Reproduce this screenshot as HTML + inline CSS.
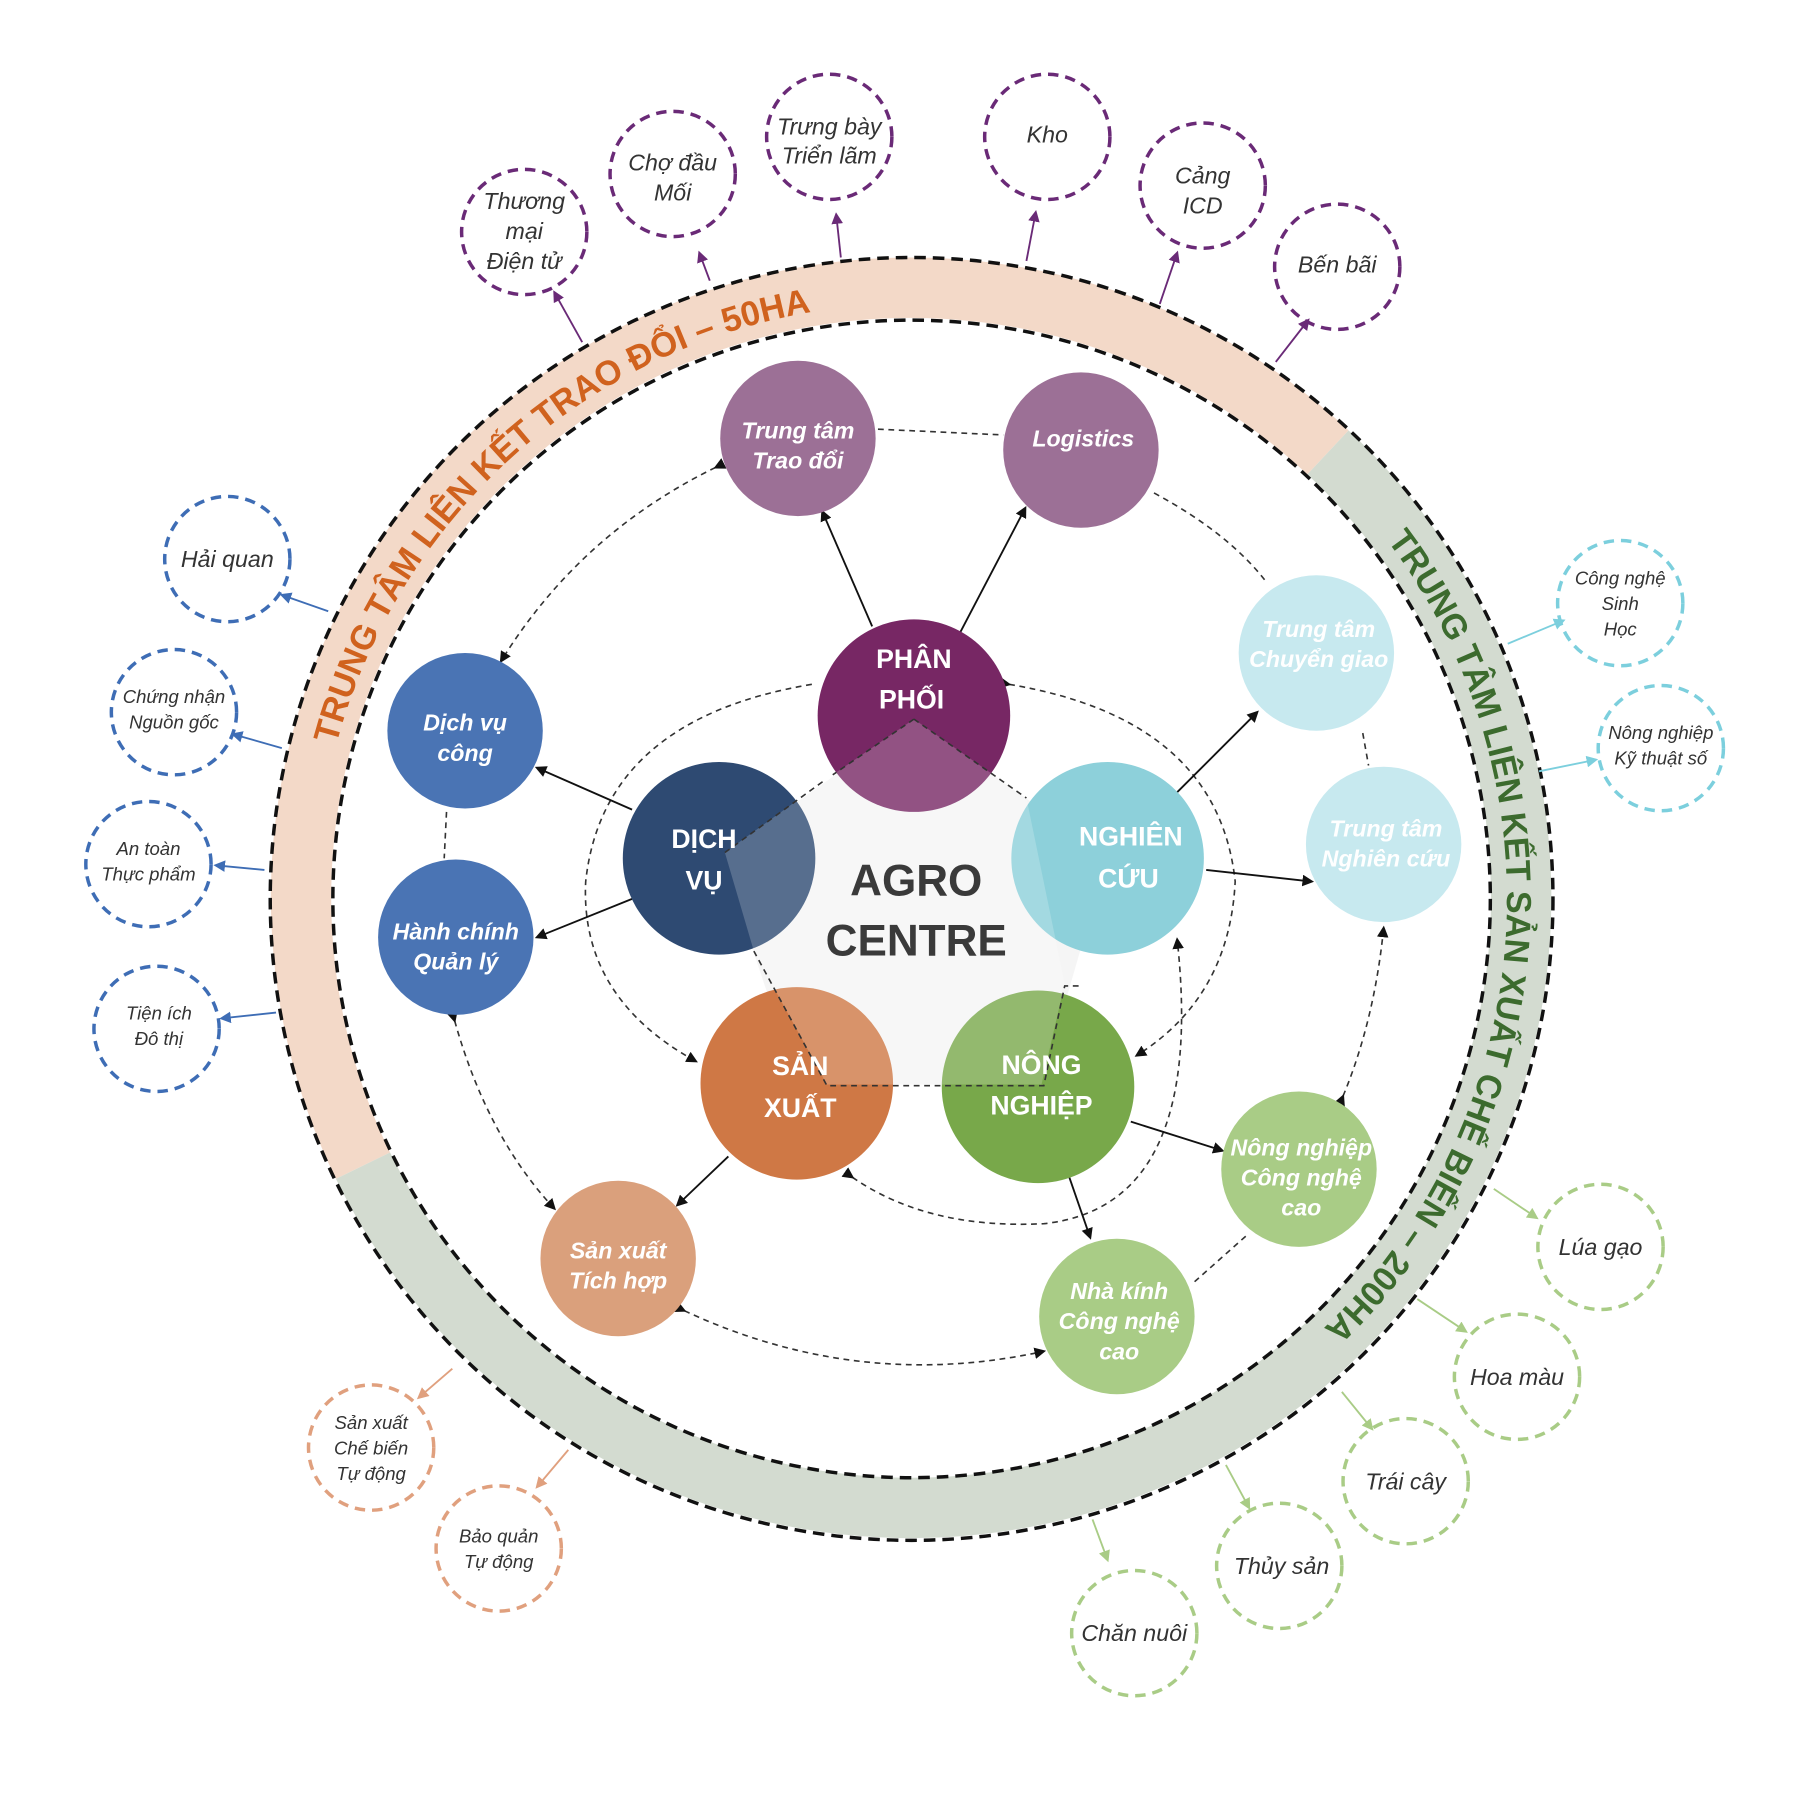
<!DOCTYPE html>
<html><head><meta charset="utf-8"><style>
html,body{margin:0;padding:0;background:#fff}
svg{display:block}
text{font-family:"Liberation Sans",sans-serif}
.wt{fill:#fff;font-weight:bold;font-style:italic;font-size:20px;text-anchor:middle}
.mt{fill:#fff;font-weight:bold;font-size:23px;text-anchor:middle}
.ot{fill:#333;font-style:italic;font-size:20px;text-anchor:middle}
.os{fill:#333;font-style:italic;font-size:16px;text-anchor:middle}
.dc{fill:none;stroke-width:3;stroke-dasharray:9 6}
.dl{fill:none;stroke:#333;stroke-width:1.4;stroke-dasharray:5 4}
.sl{stroke:#111;stroke-width:1.6}
</style></head><body>
<svg width="1800" height="1799" viewBox="0 0 1552 1551" preserveAspectRatio="none" xmlns="http://www.w3.org/2000/svg">
<defs>
<marker id="ak" markerWidth="10" markerHeight="10" refX="8" refY="5" orient="auto" markerUnits="userSpaceOnUse"><path d="M0,0 L10,5 L0,10 z" fill="#111"/></marker>
<marker id="ap" markerWidth="10" markerHeight="10" refX="8" refY="5" orient="auto" markerUnits="userSpaceOnUse"><path d="M0,0 L10,5 L0,10 z" fill="#6a2a77"/></marker>
<marker id="ab" markerWidth="10" markerHeight="10" refX="8" refY="5" orient="auto" markerUnits="userSpaceOnUse"><path d="M0,0 L10,5 L0,10 z" fill="#3e6db5"/></marker>
<marker id="at" markerWidth="10" markerHeight="10" refX="8" refY="5" orient="auto" markerUnits="userSpaceOnUse"><path d="M0,0 L10,5 L0,10 z" fill="#7ccfdd"/></marker>
<marker id="ag" markerWidth="10" markerHeight="10" refX="8" refY="5" orient="auto" markerUnits="userSpaceOnUse"><path d="M0,0 L10,5 L0,10 z" fill="#a9cc86"/></marker>
<marker id="ao" markerWidth="10" markerHeight="10" refX="8" refY="5" orient="auto" markerUnits="userSpaceOnUse"><path d="M0,0 L10,5 L0,10 z" fill="#e0a07e"/></marker>
<path id="tp1" d="M290,642 A513 513 0 0 1 706,268"/>
<path id="tp2" d="M1196,466 A513 513 0 0 1 1136,1150"/>
</defs>

<!-- band -->
<path d="M313,1005 A526 526 0 0 1 1145,390" fill="none" stroke="#f3d9c8" stroke-width="52"/>
<path d="M1145,390 A526 526 0 1 1 313,1005" fill="none" stroke="#d3dbd0" stroke-width="52"/>
<circle cx="786" cy="775" r="553" fill="none" stroke="#111" stroke-width="3" stroke-dasharray="10 6"/>
<circle cx="786" cy="775" r="499" fill="none" stroke="#111" stroke-width="3" stroke-dasharray="10 6"/>
<text font-size="30" font-weight="bold" fill="#d0621e"><textPath href="#tp1" textLength="585" lengthAdjust="spacingAndGlyphs">TRUNG TÂM LIÊN KẾT TRAO ĐỔI – 50HA</textPath></text>
<text font-size="30" font-weight="bold" fill="#3c6b2e"><textPath href="#tp2" textLength="745" lengthAdjust="spacingAndGlyphs">TRUNG TÂM LIÊN KẾT SẢN XUẤT CHẾ BIẾN – 200HA</textPath></text>

<!-- outer arrows -->
<g stroke-width="1.6">
<line x1="502" y1="295" x2="478" y2="252" stroke="#6a2a77" marker-end="url(#ap)"/>
<line x1="612" y1="242" x2="603" y2="218" stroke="#6a2a77" marker-end="url(#ap)"/>
<line x1="725" y1="222" x2="721" y2="185" stroke="#6a2a77" marker-end="url(#ap)"/>
<line x1="885" y1="225" x2="893" y2="183" stroke="#6a2a77" marker-end="url(#ap)"/>
<line x1="1000" y1="262" x2="1015" y2="218" stroke="#6a2a77" marker-end="url(#ap)"/>
<line x1="1100" y1="312" x2="1128" y2="276" stroke="#6a2a77" marker-end="url(#ap)"/>
<line x1="283" y1="527" x2="243" y2="513" stroke="#3e6db5" marker-end="url(#ab)"/>
<line x1="243" y1="645" x2="201" y2="633" stroke="#3e6db5" marker-end="url(#ab)"/>
<line x1="228" y1="750" x2="186" y2="746" stroke="#3e6db5" marker-end="url(#ab)"/>
<line x1="238" y1="873" x2="191" y2="878" stroke="#3e6db5" marker-end="url(#ab)"/>
<line x1="1300" y1="555" x2="1348" y2="535" stroke="#7ccfdd" marker-end="url(#at)"/>
<line x1="1327" y1="665" x2="1376" y2="655" stroke="#7ccfdd" marker-end="url(#at)"/>
<line x1="1288" y1="1025" x2="1325" y2="1050" stroke="#a9cc86" marker-end="url(#ag)"/>
<line x1="1222" y1="1120" x2="1264" y2="1148" stroke="#a9cc86" marker-end="url(#ag)"/>
<line x1="1157" y1="1200" x2="1183" y2="1232" stroke="#a9cc86" marker-end="url(#ag)"/>
<line x1="1057" y1="1263" x2="1077" y2="1300" stroke="#a9cc86" marker-end="url(#ag)"/>
<line x1="942" y1="1310" x2="955" y2="1345" stroke="#a9cc86" marker-end="url(#ag)"/>
<line x1="390" y1="1180" x2="361" y2="1205" stroke="#e0a07e" marker-end="url(#ao)"/>
<line x1="490" y1="1250" x2="463" y2="1282" stroke="#e0a07e" marker-end="url(#ao)"/>
</g>

<!-- outer dashed circles -->
<g class="dc" stroke="#6a2a77" fill="none">
<circle cx="452" cy="200" r="54" class="dc"/><circle cx="580" cy="150" r="54" class="dc"/><circle cx="715" cy="118" r="54" class="dc"/>
<circle cx="903" cy="118" r="54" class="dc"/><circle cx="1037" cy="160" r="54" class="dc"/><circle cx="1153" cy="230" r="54" class="dc"/>
</g>
<g stroke="#3e6db5">
<circle cx="196" cy="482" r="54" class="dc"/><circle cx="150" cy="614" r="54" class="dc"/><circle cx="128" cy="745" r="54" class="dc"/><circle cx="135" cy="887" r="54" class="dc"/>
</g>
<g stroke="#7ccfdd">
<circle cx="1397" cy="520" r="54" class="dc"/><circle cx="1432" cy="645" r="54" class="dc"/>
</g>
<g stroke="#a9cc86">
<circle cx="1380" cy="1075" r="54" class="dc"/><circle cx="1308" cy="1187" r="54" class="dc"/><circle cx="1212" cy="1277" r="54" class="dc"/><circle cx="1103" cy="1350" r="54" class="dc"/><circle cx="978" cy="1408" r="54" class="dc"/>
</g>
<g stroke="#e0a07e">
<circle cx="320" cy="1248" r="54" class="dc"/><circle cx="430" cy="1335" r="54" class="dc"/>
</g>
<g>
<text class="ot" x="452" y="180">Thương</text><text class="ot" x="452" y="206">mại</text><text class="ot" x="452" y="232">Điện tử</text>
<text class="ot" x="580" y="147">Chợ đầu</text><text class="ot" x="580" y="173">Mối</text>
<text class="ot" x="715" y="116">Trưng bày</text><text class="ot" x="715" y="141">Triển lãm</text>
<text class="ot" x="903" y="123">Kho</text>
<text class="ot" x="1037" y="158">Cảng</text><text class="ot" x="1037" y="184">ICD</text>
<text class="ot" x="1153" y="235">Bến bãi</text>
<text class="ot" x="196" y="489">Hải quan</text>
<text class="os" x="150" y="606">Chứng nhận</text><text class="os" x="150" y="628">Nguồn gốc</text>
<text class="os" x="128" y="737">An toàn</text><text class="os" x="128" y="759">Thực phẩm</text>
<text class="os" x="137" y="879">Tiện ích</text><text class="os" x="137" y="901">Đô thị</text>
<text class="os" x="1397" y="504">Công nghệ</text><text class="os" x="1397" y="526">Sinh</text><text class="os" x="1397" y="548">Học</text>
<text class="os" x="1432" y="637">Nông nghiệp</text><text class="os" x="1432" y="659">Kỹ thuật số</text>
<text class="ot" x="1380" y="1082">Lúa gạo</text>
<text class="ot" x="1308" y="1194">Hoa màu</text>
<text class="ot" x="1212" y="1284">Trái cây</text>
<text class="ot" x="1105" y="1357">Thủy sản</text>
<text class="ot" x="978" y="1415">Chăn nuôi</text>
<text class="os" x="320" y="1232">Sản xuất</text><text class="os" x="320" y="1254">Chế biến</text><text class="os" x="320" y="1276">Tự động</text>
<text class="os" x="430" y="1330">Bảo quản</text><text class="os" x="430" y="1352">Tự động</text>
</g>

<!-- center pentagon -->
<polygon points="788,620 955,738 898,935 688,935 622,738" fill="#f5f5f5"/>

<!-- dashed connectors -->
<path class="dl" d="M757,370 L865,375"/>
<path class="dl" d="M617,403 Q500,460 432,570" marker-start="url(#ak)" marker-end="url(#ak)"/>
<path class="dl" d="M995,425 Q1060,460 1092,502"/>
<path class="dl" d="M385,700 L383,740"/>
<path class="dl" d="M392,880 Q420,980 478,1042" marker-start="url(#ak)" marker-end="url(#ak)"/>
<path class="dl" d="M590,1130 Q740,1200 900,1165" marker-start="url(#ak)" marker-end="url(#ak)"/>
<path class="dl" d="M1030,1105 L1075,1065"/>
<path class="dl" d="M1158,945 Q1185,880 1193,800" marker-start="url(#ak)" marker-end="url(#ak)"/>
<path class="dl" d="M1175,632 L1180,660"/>
<path class="dl" d="M700,590 Q520,620 505,760 Q500,860 600,915" marker-end="url(#ak)"/>
<path class="dl" d="M870,590 Q1050,620 1065,760 Q1060,860 980,910" marker-start="url(#ak)" marker-end="url(#ak)"/>
<path class="dl" d="M735,1015 Q800,1060 900,1055 Q1040,1040 1015,810" marker-start="url(#ak)" marker-end="url(#ak)"/>

<!-- solid arrows -->
<g class="sl">
<line x1="752" y1="540" x2="709" y2="441" marker-end="url(#ak)"/>
<line x1="828" y1="545" x2="884" y2="438" marker-end="url(#ak)"/>
<line x1="545" y1="698" x2="463" y2="662" marker-end="url(#ak)"/>
<line x1="545" y1="775" x2="463" y2="808" marker-end="url(#ak)"/>
<line x1="1015" y1="683" x2="1084" y2="614" marker-end="url(#ak)"/>
<line x1="1040" y1="750" x2="1131" y2="760" marker-end="url(#ak)"/>
<line x1="975" y1="967" x2="1054" y2="992" marker-end="url(#ak)"/>
<line x1="922" y1="1015" x2="940" y2="1067" marker-end="url(#ak)"/>
<line x1="628" y1="997" x2="584" y2="1039" marker-end="url(#ak)"/>
</g>

<!-- secondary circles -->
<circle cx="688" cy="378" r="67" fill="#9c7096"/>
<circle cx="932" cy="388" r="67" fill="#9c7096"/>
<circle cx="401" cy="630" r="67" fill="#4a74b4"/>
<circle cx="393" cy="808" r="67" fill="#4a74b4"/>
<circle cx="1135" cy="563" r="67" fill="#c7e9ef"/>
<circle cx="1193" cy="728" r="67" fill="#c7e9ef"/>
<circle cx="1120" cy="1008" r="67" fill="#a9cc86"/>
<circle cx="963" cy="1135" r="67" fill="#a9cc86"/>
<circle cx="533" cy="1085" r="67" fill="#daa07c"/>
<text class="wt" x="688" y="378">Trung tâm</text><text class="wt" x="688" y="404">Trao đổi</text>
<text class="wt" x="934" y="385">Logistics</text>
<text class="wt" x="401" y="630" font-weight="normal">Dịch vụ</text><text class="wt" x="401" y="656" font-weight="normal">công</text>
<text class="wt" x="393" y="810">Hành chính</text><text class="wt" x="393" y="836">Quản lý</text>
<text class="wt" x="1137" y="549">Trung tâm</text><text class="wt" x="1137" y="575">Chuyển giao</text>
<text class="wt" x="1195" y="721">Trung tâm</text><text class="wt" x="1195" y="747">Nghiên cứu</text>
<text class="wt" x="1122" y="996">Nông nghiệp</text><text class="wt" x="1122" y="1022">Công nghệ</text><text class="wt" x="1122" y="1048">cao</text>
<text class="wt" x="965" y="1120">Nhà kính</text><text class="wt" x="965" y="1146">Công nghệ</text><text class="wt" x="965" y="1172">cao</text>
<text class="wt" x="533" y="1085">Sản xuất</text><text class="wt" x="533" y="1111">Tích hợp</text>

<!-- main circles -->
<circle cx="788" cy="617" r="83" fill="#772764"/>
<circle cx="620" cy="740" r="83" fill="#2e4a72"/>
<circle cx="955" cy="740" r="83" fill="#8dd0da"/>
<circle cx="687" cy="934" r="83" fill="#cf7845"/>
<circle cx="895" cy="937" r="83" fill="#78a84a"/>
<polygon points="788,620 885,688 918,848 898,935 713,935 650,820 625,735 718,668" fill="#fff" opacity="0.2"/>
<g class="dl" stroke="#111">
<path d="M788,620 L885,688"/><path d="M788,620 L718,668"/><path d="M625,735 L712,672"/>
<path d="M930,850 L918,850 L900,936 L713,936 L650,820"/>
</g>
<text class="mt" x="788" y="576">PHÂN</text><text class="mt" x="786" y="611">PHỐI</text>
<text class="mt" x="607" y="731">DỊCH</text><text class="mt" x="607" y="767">VỤ</text>
<text class="mt" x="975" y="729">NGHIÊN</text><text class="mt" x="973" y="765">CỨU</text>
<text class="mt" x="690" y="927">SẢN</text><text class="mt" x="690" y="963">XUẤT</text>
<text class="mt" x="898" y="926">NÔNG</text><text class="mt" x="898" y="961">NGHIỆP</text>
<text x="790" y="772" font-size="38" font-weight="bold" fill="#3a3a3a" text-anchor="middle">AGRO</text>
<text x="790" y="824" font-size="38" font-weight="bold" fill="#3a3a3a" text-anchor="middle">CENTRE</text>
</svg>
</body></html>
